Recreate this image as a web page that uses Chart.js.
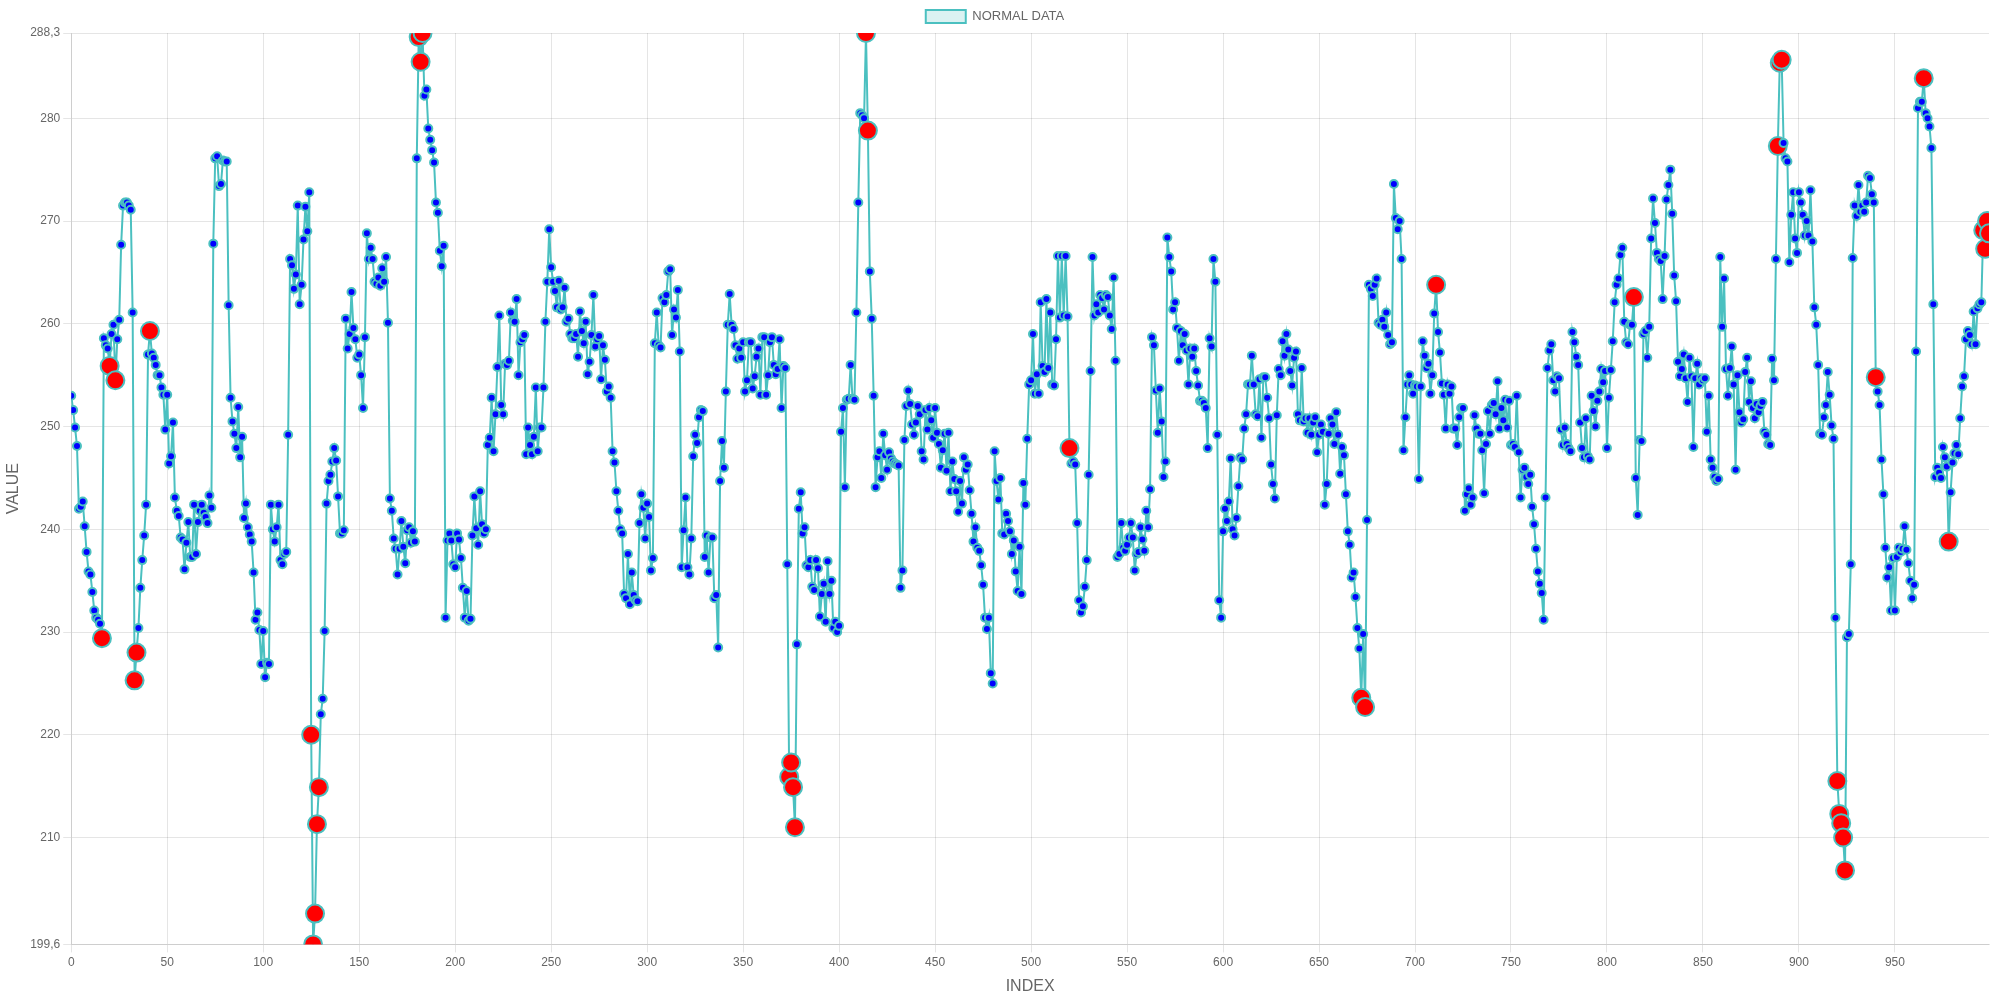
<!DOCTYPE html>
<html>
<head>
<meta charset="utf-8">
<script src="https://cdn.jsdelivr.net/npm/chart.js@4.4.1/dist/chart.umd.min.js"></script>
<style>
  html, body { margin: 0; padding: 0; background: #fff; }
  #wrap { width: 2000px; height: 1000px; position: relative; }
</style>
</head>
<body>
<div id="wrap"><canvas id="chart"></canvas></div>
<script>
// readings, one per index (0..999)
const values = [
  253.0, 251.6, 249.9, 248.1, 242.0, 242.2, 242.7, 240.3, 237.8, 235.9,
  235.6, 233.9, 232.1, 231.4, 231.2, 230.8, 229.4, 258.6, 257.9, 257.6,
  255.9, 259.0, 259.9, 254.5, 258.5, 260.4, 267.7, 271.5, 271.8, 271.8,
  271.5, 271.1, 261.1, 225.3, 228.0, 230.4, 234.3, 237.0, 239.4, 242.4,
  257.0, 259.3, 257.1, 256.7, 256.0, 255.0, 255.0, 253.8, 253.1, 249.7,
  253.1, 246.4, 247.1, 250.4, 243.1, 241.8, 241.3, 239.2, 239.0, 236.1,
  238.7, 240.7, 237.3, 237.3, 242.4, 237.6, 240.7, 241.8, 242.4, 241.6,
  241.2, 240.6, 243.3, 242.1, 267.8, 276.1, 276.3, 273.4, 273.6, 275.9,
  275.8, 275.8, 261.8, 252.8, 250.5, 249.3, 247.9, 251.9, 247.0, 249.0,
  241.1, 242.5, 240.2, 239.5, 238.8, 235.8, 231.2, 231.9, 230.2, 226.9,
  230.1, 225.6, 227.0, 226.9, 242.4, 240.0, 238.8, 240.2, 242.4, 237.0,
  236.6, 237.6, 237.8, 249.2, 266.3, 265.7, 263.4, 264.8, 271.5, 261.9,
  263.8, 268.2, 271.4, 269.0, 272.8, 220.0, 199.6, 202.6, 211.3, 214.9,
  222.0, 223.5, 230.1, 242.5, 244.7, 245.3, 246.6, 247.9, 246.7, 243.2,
  239.6, 239.6, 239.9, 260.5, 257.6, 259.0, 263.1, 259.6, 258.5, 256.7,
  257.0, 255.0, 251.8, 258.7, 268.8, 266.3, 267.4, 266.3, 264.1, 263.9,
  264.5, 263.7, 265.4, 264.1, 266.5, 260.1, 243.0, 241.8, 239.1, 238.1,
  235.6, 238.1, 240.8, 238.3, 236.7, 239.9, 240.2, 238.7, 239.8, 238.8,
  276.1, 287.9, 285.5, 288.3, 282.2, 282.8, 279.0, 277.9, 276.9, 275.7,
  271.8, 270.8, 267.1, 265.6, 267.6, 231.4, 238.9, 239.6, 238.9, 236.6,
  236.3, 239.6, 239.0, 237.2, 234.3, 231.4, 234.0, 231.1, 231.3, 239.4,
  243.2, 240.1, 238.5, 243.7, 240.5, 239.6, 240.0, 248.2, 248.9, 252.8,
  247.6, 251.2, 255.8, 260.8, 252.1, 251.2, 256.1, 256.0, 256.4, 261.1,
  260.3, 260.2, 262.4, 255.0, 258.2, 258.5, 258.9, 247.3, 249.9, 248.2,
  247.3, 249.0, 253.8, 247.6, 249.9, 249.9, 253.8, 260.2, 264.1, 269.2,
  265.5, 264.1, 263.2, 261.6, 264.2, 261.4, 261.6, 263.5, 260.2, 260.5,
  259.0, 258.6, 258.6, 259.0, 256.8, 261.2, 259.3, 258.1, 260.2, 255.1,
  256.3, 258.9, 262.8, 257.8, 258.5, 258.8, 254.6, 257.9, 256.5, 253.4,
  253.9, 252.8, 247.6, 246.5, 243.7, 241.8, 240.0, 239.6, 233.7, 233.3,
  237.6, 232.7, 235.8, 233.6, 233.1, 233.0, 240.6, 243.4, 242.1, 239.1,
  242.5, 241.2, 236.0, 237.2, 258.1, 261.1, 257.9, 257.7, 262.5, 262.1,
  262.8, 265.1, 265.3, 258.9, 261.4, 260.6, 263.3, 257.3, 236.3, 239.9,
  243.1, 236.3, 235.6, 239.1, 247.1, 249.2, 248.4, 250.9, 251.6, 251.5,
  237.3, 239.4, 235.8, 239.2, 239.2, 233.3, 233.6, 228.5, 244.7, 248.6,
  246.0, 253.4, 259.9, 262.9, 259.9, 259.5, 257.9, 256.6, 257.6, 256.7,
  258.2, 253.4, 254.5, 258.2, 258.2, 253.7, 254.9, 256.8, 257.6, 253.1,
  258.7, 258.7, 253.1, 255.0, 258.2, 258.7, 256.0, 255.1, 255.6, 258.5,
  251.8, 255.9, 255.7, 236.6, 215.9, 217.3, 214.9, 211.0, 228.8, 242.0,
  243.6, 239.6, 240.2, 236.5, 236.3, 237.0, 234.4, 234.1, 237.0, 236.2,
  231.5, 233.7, 234.7, 231.0, 236.9, 233.7, 235.0, 230.4, 231.0, 230.0,
  230.6, 249.5, 251.8, 244.1, 252.6, 252.7, 256.0, 252.7, 252.6, 261.1,
  271.8, 280.5, 280.3, 280.0, 288.3, 278.8, 265.1, 260.5, 253.0, 244.1,
  247.0, 247.6, 245.0, 249.3, 247.2, 245.8, 247.5, 246.9, 246.6, 246.4,
  246.3, 246.2, 234.3, 236.0, 248.7, 252.0, 253.5, 252.2, 250.2, 249.2,
  250.4, 252.0, 251.2, 247.6, 246.8, 251.6, 249.7, 251.8, 250.6, 248.9,
  251.8, 249.4, 248.3, 246.0, 247.7, 249.3, 245.7, 249.4, 243.7, 246.6,
  244.9, 243.7, 241.7, 244.7, 242.5, 247.0, 245.8, 246.3, 243.8, 241.5,
  238.8, 240.2, 238.2, 237.9, 236.5, 234.6, 231.4, 230.3, 231.4, 226.0,
  225.0, 247.6, 244.7, 242.9, 245.0, 239.6, 239.5, 241.5, 240.8, 239.8,
  237.6, 238.9, 235.9, 234.0, 238.3, 233.7, 244.5, 242.4, 248.8, 254.1,
  254.5, 259.0, 253.2, 255.1, 253.2, 262.1, 255.9, 255.3, 262.4, 255.7,
  261.1, 254.1, 254.0, 258.5, 266.6, 260.6, 266.6, 260.8, 266.6, 260.7,
  247.9, 246.4, 246.6, 246.3, 240.6, 233.1, 231.9, 232.5, 234.4, 237.0,
  245.3, 255.4, 266.5, 260.8, 261.9, 261.1, 262.8, 262.5, 261.4, 262.8,
  262.6, 260.8, 259.5, 264.5, 256.4, 237.3, 237.6, 240.6, 238.2, 237.9,
  238.5, 239.2, 240.6, 239.2, 236.0, 237.6, 237.8, 240.2, 239.0, 237.9,
  241.8, 240.2, 243.9, 258.7, 257.9, 253.5, 249.4, 253.7, 250.5, 245.1,
  246.6, 268.4, 266.5, 265.1, 261.4, 262.1, 259.6, 256.4, 259.3, 257.9,
  259.0, 257.4, 254.1, 257.6, 256.8, 257.6, 255.4, 254.0, 252.5, 252.5,
  252.3, 251.8, 247.9, 258.6, 257.8, 266.3, 264.1, 249.2, 233.1, 231.4,
  239.8, 242.0, 240.8, 242.7, 246.9, 240.0, 239.4, 241.1, 244.2, 247.0,
  246.8, 249.8, 251.2, 254.1, 254.1, 256.9, 254.1, 251.2, 251.0, 254.6,
  248.9, 254.8, 254.8, 252.8, 250.8, 246.3, 244.4, 243.0, 251.1, 255.6,
  255.0, 258.3, 256.9, 259.0, 257.5, 255.4, 254.0, 256.7, 257.3, 251.2,
  250.6, 255.7, 250.5, 250.8, 249.4, 250.8, 249.2, 250.4, 250.9, 247.5,
  249.2, 250.2, 249.5, 242.4, 244.4, 249.3, 250.8, 250.2, 248.3, 251.4,
  249.2, 245.4, 248.0, 247.2, 243.4, 239.8, 238.5, 235.3, 235.8, 233.4,
  230.4, 228.4, 223.6, 229.8, 222.7, 240.9, 263.8, 263.4, 262.7, 263.8,
  264.4, 260.1, 259.9, 260.4, 259.7, 261.1, 258.9, 258.0, 258.2, 273.6,
  270.3, 269.2, 270.0, 266.3, 247.7, 250.9, 254.1, 255.0, 254.1, 253.2,
  254.0, 253.9, 244.9, 253.9, 258.3, 256.9, 255.7, 256.1, 253.2, 255.0,
  261.0, 263.8, 259.2, 257.2, 254.2, 253.1, 249.8, 254.1, 253.2, 253.9,
  249.8, 249.8, 248.2, 250.9, 251.8, 251.8, 241.8, 243.4, 244.0, 242.4,
  243.1, 251.1, 249.8, 249.3, 249.3, 247.7, 243.5, 248.3, 251.5, 249.3,
  252.1, 252.3, 251.2, 254.4, 249.8, 251.8, 250.6, 252.6, 249.9, 252.5,
  248.2, 248.3, 248.0, 253.0, 247.5, 243.1, 245.8, 246.0, 245.1, 244.4,
  245.3, 242.2, 240.5, 238.1, 235.9, 234.7, 233.8, 231.2, 243.1, 255.7,
  257.4, 258.0, 254.5, 253.4, 254.9, 254.7, 249.7, 248.2, 249.9, 248.3,
  247.9, 247.6, 259.2, 258.2, 256.8, 256.0, 250.4, 247.9, 247.0, 250.8,
  247.1, 246.8, 253.0, 251.5, 250.0, 252.5, 253.4, 255.6, 254.3, 255.4,
  247.9, 252.8, 255.5, 258.3, 262.1, 263.8, 264.4, 266.7, 267.4, 260.2,
  258.2, 258.0, 259.9, 259.9, 262.6, 245.0, 241.4, 248.7, 248.6, 259.0,
  259.3, 256.7, 259.7, 268.3, 272.2, 269.8, 266.9, 266.3, 266.1, 262.4,
  266.6, 272.1, 273.5, 275.0, 270.7, 264.7, 262.2, 256.3, 254.9, 255.6,
  257.0, 254.7, 252.4, 256.7, 254.9, 248.0, 254.7, 256.1, 254.1, 254.7,
  254.5, 254.7, 249.5, 253.0, 246.8, 246.0, 245.1, 244.7, 244.9, 266.5,
  259.7, 264.4, 255.6, 253.0, 255.7, 257.8, 254.1, 245.8, 255.0, 251.4,
  250.4, 250.7, 255.3, 256.7, 252.4, 254.4, 251.8, 250.8, 252.2, 251.4,
  252.0, 252.4, 249.5, 249.2, 248.3, 248.2, 256.6, 254.5, 266.3, 277.3,
  285.4, 285.7, 277.6, 276.1, 275.8, 266.0, 270.6, 272.8, 268.3, 266.9,
  272.8, 271.8, 270.6, 268.6, 270.0, 268.6, 273.0, 268.0, 261.6, 259.9,
  256.0, 249.3, 249.2, 250.9, 252.1, 255.3, 253.1, 250.1, 248.8, 231.4,
  215.5, 212.3, 211.4, 210.0, 206.8, 229.5, 229.8, 236.6, 266.4, 271.5,
  270.5, 273.5, 270.9, 271.5, 270.9, 271.8, 274.4, 274.2, 272.6, 271.8,
  254.8, 253.4, 252.1, 246.8, 243.4, 238.2, 235.3, 236.3, 232.1, 237.2,
  232.1, 237.3, 238.2, 237.8, 238.1, 240.3, 238.0, 236.7, 235.0, 233.3,
  234.6, 257.3, 281.0, 281.6, 281.6, 283.9, 280.5, 280.0, 279.2, 277.1,
  261.9, 245.1, 246.0, 245.5, 245.0, 248.0, 247.0, 246.1, 238.8, 243.6,
  246.5, 247.4, 248.2, 247.3, 250.8, 253.9, 254.9, 258.5, 259.3, 258.9,
  258.0, 261.2, 258.0, 261.5, 261.9, 262.1, 269.1, 267.3, 270.0, 268.8
];

// indices flagged as anomalies (drawn as big red dots)
const anomalyIndex = [
  16, 20, 23, 33, 34, 41, 125, 126, 127, 128, 129, 181, 182, 183,
  374, 375, 376, 377, 414, 415, 520, 672, 674, 711, 814, 889, 890, 891,
  920, 921, 922, 923, 924, 940, 965, 978, 996, 997, 998, 999
];

// x tick labels shown under the axis
const xTickValues = [0, 50, 100, 150, 200, 250, 300, 350, 400, 450,
  500, 550, 600, 650, 700, 750, 800, 850, 900, 950];

const yMin = 199.6;
const yMax = 288.3;

const anomalySet = new Set(anomalyIndex);
const points = values.map((v, i) => ({ x: i, y: v }));

const teal = 'rgb(75, 192, 192)';
const grey = '#666';

new Chart(document.getElementById('chart'), {
  type: 'line',
  data: {
    datasets: [{
      label: 'NORMAL DATA',
      data: points,
      borderColor: teal,
      backgroundColor: 'rgba(75, 192, 192, 0.2)',
      borderWidth: 2,
      tension: 0,
      pointBackgroundColor: ctx => anomalySet.has(ctx.dataIndex) ? 'red' : 'blue',
      pointBorderColor: teal,
      pointBorderWidth: 2,
      pointRadius: ctx => anomalySet.has(ctx.dataIndex) ? 9 : 4
    }]
  },
  options: {
    responsive: true,
    maintainAspectRatio: false,
    animation: false,
    locale: 'de-DE',
    layout: { padding: { right: 10 } },
    plugins: {
      legend: {
        labels: { color: grey, font: { size: 13 } }
      },
      tooltip: { enabled: false }
    },
    scales: {
      x: {
        type: 'linear',
        min: 0,
        max: values.length - 1,
        ticks: { color: grey, font: { size: 12 }, autoSkip: false, maxRotation: 0 },
        afterBuildTicks: scale => {
          scale.ticks = xTickValues.map(v => ({ value: v }));
        },
        title: { display: true, text: 'INDEX', color: grey, font: { size: 16 } }
      },
      y: {
        min: yMin,
        max: yMax,
        ticks: { color: grey, font: { size: 12 } },
        title: { display: true, text: 'VALUE', color: grey, font: { size: 16 } }
      }
    }
  }
});
</script>
</body>
</html>
